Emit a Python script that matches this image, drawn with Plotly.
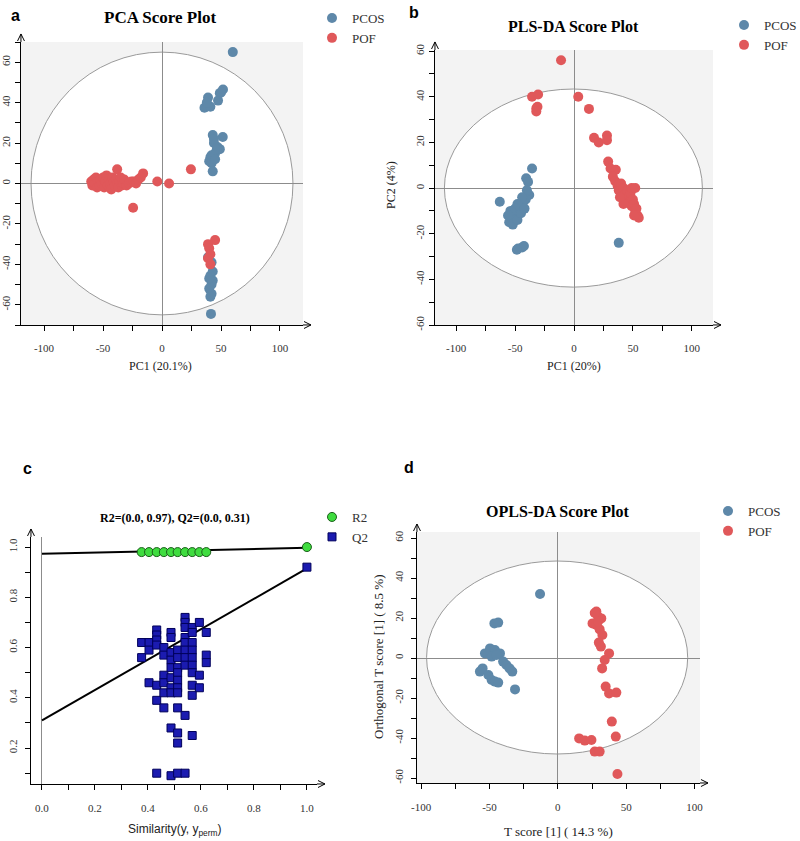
import plotly.graph_objects as go

W, H = 800, 841
BLUE = "#5e88a9"
RED = "#e0585a"
SERIF = "Liberation Serif, Times New Roman, serif"
SANS = "Liberation Sans, Arial, sans-serif"

# ---------------- data ----------------
# Panel a: PCA scores
pca_pcos_x = [60, 36, 39, 41, 38, 47.5, 49, 51.7, 50,
              43, 44, 51.5, 47, 49, 45, 41, 40, 42, 43, 46.5, 44, 42, 45,
              39, 42, 43, 41, 43, 40, 42, 41, 41.5, 42, 40]
pca_pcos_y = [65, 37.5, 42.5, 38, 40, 41, 44.7, 46.5, 45,
              24, 20, 23, 18, 17, 15, 13, 11, 10, 6, 17, 22, 14, 12,
              -36.5, -39, -43.5, -45.6, -48, -52, -54.5, -56, -64.5, -50, -47]
pca_pof_x = [-60, -59, -58, -57, -56, -55, -54, -53, -52, -51, -50, -49, -48, -47, -46,
             -45, -44, -43, -42, -41, -40, -39, -38, -38, -37, -36, -35, -34, -33, -32,
             -30, -28, -26, -24, -22, -20, -18, -16, -24.5, -4, 6, 24.5,
             45, 39, 40, 41, 39, 41]
pca_pof_y = [1, -1, 2, 0, 3, -2, 1, -1, 2, 0, 3, -2, 1, 4, -1,
             2, 0, -3, 3, 1, -1, 2, 7, 0, -2, 1, 3, -1, 0, 2,
             -1, 0, 1, 1, 0, 2, 3, 5, -12, 1, 0, 7,
             -28, -30, -32, -35, -37, -40]

# Panel b: PLS-DA scores
pls_pcos_x = [-63, -35.6, -40.6, -39, -38, -40, -41, -43, -44, -46, -47, -48, -49, -50,
              -51, -52, -53, -54, -55, -52, -48, -45, -42, -56,
              -47.5, -44, -42.5, -48.5, 38]
pls_pcos_y = [-6, 8.6, 4.3, 2.7, -3, -1, -5, -6, -4, -8, -10, -7, -12, -9,
              -14, -11, -13, -10, -15, -16, -14, -11, -9, -12,
              -26.5, -26, -25.4, -27, -24]
pls_pof_x = [-11, -35.6, -30.5, -32, -31, -32, 3.6, 12.7, 17, 21, 28, 28, 29, 31, 35.5,
             33, 35, 37, 38, 40, 41, 42, 43, 44, 45, 46, 47, 48, 49, 50, 51, 52, 53,
             54, 55, 51, 49, 42, 39, 52]
pls_pof_y = [56, 40, 41, 35, 35.6, 33.6, 40, 34.7, 22, 20, 23, 21, 11.6, 8.6, 8,
             5, 3, 1, -1, 2, -2, 0, -3, -5, -1, -4, -6, -2, -8, -5, -7, -10, -9,
             -12, -13, -12, 0, -7, -4, 0]

# Panel c: permutation test
r2_x = [0.376, 0.404, 0.433, 0.46, 0.487, 0.512, 0.54, 0.567, 0.594, 0.62, 1.0]
r2_y = [0.98, 0.98, 0.98, 0.98, 0.98, 0.98, 0.98, 0.98, 0.98, 0.98, 1.0]
q2_x = ([0.376] * 2 + [0.404] * 3 + [0.433] * 7 + [0.46] * 6 + [0.487] * 10 +
        [0.512] * 11 + [0.54] * 10 + [0.567] * 10 + [0.594] * 3 + [0.62] * 3 + [1.0])
q2_y = [0.62, 0.56,
        0.62, 0.59, 0.46,
        0.67, 0.65, 0.63, 0.61, 0.45, 0.39, 0.10,
        0.60, 0.57, 0.49, 0.46, 0.42, 0.36,
        0.66, 0.64, 0.58, 0.55, 0.52, 0.48, 0.44, 0.42, 0.28, 0.09,
        0.59, 0.56, 0.52, 0.50, 0.47, 0.44, 0.42, 0.36, 0.26, 0.22, 0.10,
        0.72, 0.70, 0.68, 0.64, 0.62, 0.59, 0.56, 0.53, 0.33, 0.10,
        0.68, 0.66, 0.62, 0.59, 0.56, 0.53, 0.50, 0.45, 0.41, 0.25,
        0.70, 0.49, 0.44,
        0.66, 0.57, 0.54,
        0.92]
r2_line_x = [0.0, 1.0]
r2_line_y = [0.973, 0.997]
q2_line_x = [0.0, 1.0]
q2_line_y = [0.31, 0.915]

# Panel d: OPLS-DA scores
opls_pcos_x = [-57, -55, -50.8, -48.4, -46, -43.6, -31.3, -53.3, -49.6, -46, -42.3, -48.4,
               -44.8, -40, -37.6, -35.3, -33.3, -46.4, -43.6, -13]
opls_pcos_y = [-6.8, -5.2, -8.5, -11, -11.8, -12.3, -15.7, 2.3, 4.8, 4, 2.3, 0.7,
               1.5, -1.8, -3.5, -5.2, -6.8, 17.3, 17.7, 32]
opls_pof_x = [28.2, 29.4, 31.8, 25.4, 28.2, 30.6, 32.6, 30, 31.5, 37.5, 34.3, 32.4, 35, 37.5,
              42.8, 39.5, 42.4, 15.6, 19.7, 24.6, 27, 30.6, 43.6, 29.4, 27]
opls_pof_y = [23.2, 20.7, 19.8, 17.3, 16.5, 14.3, 11.5, 7.7, 5.7, 2.3, -1, -5.2, -14.3, -17.7,
              -17.3, -31.8, -39.3, -40.2, -41.3, -41, -46.8, -46.8, -58, 18.3, 22.5]

# tick labels
score_x_ticks = [-100, -50, 0, 50, 100]
score_x_labels = ["-100", "-50", "0", "50", "100"]
score_y_ticks = [-60, -40, -20, 0, 20, 40, 60]
score_y_labels = ["-60", "-40", "-20", "0", "20", "40", "60"]
perm_x_ticks = [0.0, 0.2, 0.4, 0.6, 0.8, 1.0]
perm_x_labels = ["0.0", "0.2", "0.4", "0.6", "0.8", "1.0"]
perm_y_ticks = [0.2, 0.4, 0.6, 0.8, 1.0]
perm_y_labels = ["0.2", "0.4", "0.6", "0.8", "1.0"]


def PX(x):
    return x / W


def PY(y):
    return 1 - y / H


fig = go.Figure()

dot = dict(size=10, line=dict(width=0))
# a
fig.add_trace(go.Scatter(x=pca_pcos_x, y=pca_pcos_y, mode="markers", name="PCOS",
                         marker=dict(color=BLUE, **dot), xaxis="x", yaxis="y", legend="legend"))
fig.add_trace(go.Scatter(x=pca_pof_x, y=pca_pof_y, mode="markers", name="POF",
                         marker=dict(color=RED, **dot), xaxis="x", yaxis="y", legend="legend"))
# b
fig.add_trace(go.Scatter(x=pls_pcos_x, y=pls_pcos_y, mode="markers", name="PCOS",
                         marker=dict(color=BLUE, **dot), xaxis="x2", yaxis="y2", legend="legend2"))
fig.add_trace(go.Scatter(x=pls_pof_x, y=pls_pof_y, mode="markers", name="POF",
                         marker=dict(color=RED, **dot), xaxis="x2", yaxis="y2", legend="legend2"))
# c
fig.add_trace(go.Scatter(x=r2_line_x, y=r2_line_y, mode="lines", line=dict(color="black", width=2),
                         showlegend=False, xaxis="x3", yaxis="y3"))
fig.add_trace(go.Scatter(x=q2_line_x, y=q2_line_y, mode="lines", line=dict(color="black", width=2),
                         showlegend=False, xaxis="x3", yaxis="y3"))
fig.add_trace(go.Scatter(x=r2_x, y=r2_y, mode="markers", name="R2",
                         marker=dict(color="#3fdc3f", size=9, symbol="circle",
                                     line=dict(color="#1a5e1a", width=1)),
                         xaxis="x3", yaxis="y3", legend="legend3"))
fig.add_trace(go.Scatter(x=q2_x, y=q2_y, mode="markers", name="Q2",
                         marker=dict(color="#1b1bb0", size=8, symbol="square",
                                     line=dict(color="#00005a", width=1)),
                         xaxis="x3", yaxis="y3", legend="legend3"))
# d
fig.add_trace(go.Scatter(x=opls_pcos_x, y=opls_pcos_y, mode="markers", name="PCOS",
                         marker=dict(color=BLUE, **dot), xaxis="x4", yaxis="y4", legend="legend4"))
fig.add_trace(go.Scatter(x=opls_pof_x, y=opls_pof_y, mode="markers", name="POF",
                         marker=dict(color=RED, **dot), xaxis="x4", yaxis="y4", legend="legend4"))


def axis(domain, rng, anchor, tv, tt, minor_dtick, vertical=False, standoff=8):
    d = dict(domain=domain, range=rng, anchor=anchor, showline=True, linecolor="black",
             linewidth=1, ticks="outside", ticklen=5, tickcolor="black", showgrid=False,
             zeroline=True, zerolinecolor="#8c8c8c", zerolinewidth=1,
             tickmode="array", tickvals=tv, ticktext=tt, automargin=False,
             minor=dict(dtick=minor_dtick, tick0=0, ticks="outside", ticklen=5,
                        tickcolor="black", showgrid=False),
             tickfont=dict(family=SERIF, size=11, color="#333"),
             ticklabelstandoff=standoff, fixedrange=True)
    if vertical:
        d["tickangle"] = -90
    return d


dom_a_x = [PX(21), PX(303)]
dom_a_y = [PY(325), PY(42)]
dom_b_x = [PX(435), PX(713)]
dom_b_y = [PY(325), PY(50)]
dom_c_x = [PX(31), PX(317)]
dom_c_y = [PY(784), PY(537)]
dom_d_x = [PX(417), PX(700)]
dom_d_y = [PY(783), PY(532)]

lay = dict(
    width=W, height=H, margin=dict(l=0, r=0, t=0, b=0, autoexpand=False),
    paper_bgcolor="white", plot_bgcolor="white",
    xaxis=axis(dom_a_x, [-119.5, 119.5], "y", score_x_ticks, score_x_labels, 25, standoff=8),
    yaxis=axis(dom_a_y, [-70, 70], "x", score_y_ticks, score_y_labels, 10, vertical=True, standoff=1),
    xaxis2=axis(dom_b_x, [-118, 118], "y2", score_x_ticks, score_x_labels, 25, standoff=8),
    yaxis2=axis(dom_b_y, [-60, 60.5], "x2", score_y_ticks, score_y_labels, 10, vertical=True, standoff=1),
    xaxis3=axis(dom_c_x, [-0.0415, 1.038], "y3", perm_x_ticks, perm_x_labels, 0.1, standoff=9),
    yaxis3=axis(dom_c_y, [0.057, 1.04], "x3", perm_y_ticks, perm_y_labels, 0.1, vertical=True, standoff=4),
    xaxis4=axis(dom_d_x, [-103, 104], "y4", score_x_ticks, score_x_labels, 25, standoff=9),
    yaxis4=axis(dom_d_y, [-62.5, 63], "x4", score_y_ticks, score_y_labels, 10, vertical=True, standoff=4),
)
lay["yaxis3"]["zeroline"] = False

leg = dict(bgcolor="rgba(0,0,0,0)", font=dict(family=SERIF, size=13, color="#333"),
           xanchor="left", yanchor="top", tracegroupgap=0, itemwidth=30)
lay["legend"] = dict(leg, x=PX(312), y=PY(3))
lay["legend2"] = dict(leg, x=PX(724), y=PY(10))
lay["legend3"] = dict(leg, x=PX(312), y=PY(502))
lay["legend4"] = dict(leg, x=PX(708), y=PY(496))
fig.update_layout(**lay)

# backgrounds + ellipses
shapes = []
for xr, yr, ell in [("x", "y", (-111, 111, -65, 65)),
                    ("x2", "y2", (-110, 109, -43.4, 43.4)),
                    ("x4", "y4", (-96, 95, -48, 48.5))]:
    shapes.append(dict(type="rect", xref=xr + " domain", yref=yr + " domain", x0=0, x1=1, y0=0, y1=1,
                       fillcolor="#f3f3f3", line=dict(width=0), layer="below"))
    shapes.append(dict(type="circle", xref=xr, yref=yr, x0=ell[0], x1=ell[1], y0=ell[2], y1=ell[3],
                       fillcolor="white", line=dict(color="#9a9a9a", width=1), layer="below"))

# axis arrows (line extension + open chevron), in paper pixels
for (dx, dy) in [(dom_a_x, dom_a_y), (dom_b_x, dom_b_y), (dom_c_x, dom_c_y), (dom_d_x, dom_d_y)]:
    lx = dx[0] * W
    ty = (1 - dy[1]) * H
    rx = dx[1] * W
    by = (1 - dy[0]) * H
    tip = ty - 8
    p1 = "M {:.4f},{:.4f} L {:.4f},{:.4f} M {:.4f},{:.4f} L {:.4f},{:.4f} L {:.4f},{:.4f}".format(
        PX(lx), PY(ty), PX(lx), PY(tip),
        PX(lx - 3.5), PY(tip + 7), PX(lx), PY(tip), PX(lx + 3.5), PY(tip + 7))
    tipx = rx + 8
    p2 = "M {:.4f},{:.4f} L {:.4f},{:.4f} M {:.4f},{:.4f} L {:.4f},{:.4f} L {:.4f},{:.4f}".format(
        PX(rx), PY(by), PX(tipx), PY(by),
        PX(tipx - 7), PY(by - 3.5), PX(tipx), PY(by), PX(tipx - 7), PY(by + 3.5))
    for p in (p1, p2):
        shapes.append(dict(type="path", xref="paper", yref="paper", path=p,
                           line=dict(color="black", width=1)))
fig.update_layout(shapes=shapes)

ann = []


def text(x, y, s, size=12, family=SERIF, angle=0, color="#222"):
    ann.append(dict(x=PX(x), y=PY(y), xref="paper", yref="paper", text=s, showarrow=False,
                    font=dict(family=family, size=size, color=color), textangle=angle,
                    xanchor="center", yanchor="middle"))


# panel letters
text(15, 16, "<b>a</b>", 16, SANS, color="black")
text(414, 12, "<b>b</b>", 16, SANS, color="black")
text(27, 468, "<b>c</b>", 16, SANS, color="black")
text(409, 467, "<b>d</b>", 16, SANS, color="black")
# titles
text(160, 17, "<b>PCA Score Plot</b>", 17, color="black")
text(573, 27, "<b>PLS-DA Score Plot</b>", 16, color="black")
text(175, 518, "<b>R2=(0.0, 0.97), Q2=(0.0, 0.31)</b>", 12, color="black")
text(557, 512, "<b>OPLS-DA Score Plot</b>", 16, color="black")
# axis titles
text(160, 366, "PC1 (20.1%)", 12)
text(574, 366, "PC1 (20%)", 12)
text(391, 185, "PC2 (4%)", 12, angle=-90)
text(175, 830, "Similarity(y, y<sub>perm</sub>)", 12, "Liberation Sans Narrow, Liberation Sans, sans-serif")
text(378, 657, "Orthogonal T score [1] ( 8.5 %)", 13, angle=-90)
text(558, 831, "T score [1] ( 14.3 %)", 13)
fig.update_layout(annotations=ann)

fig.write_html("out.html", config={"displayModeBar": False},
               post_script="document.body.style.margin='0';")
